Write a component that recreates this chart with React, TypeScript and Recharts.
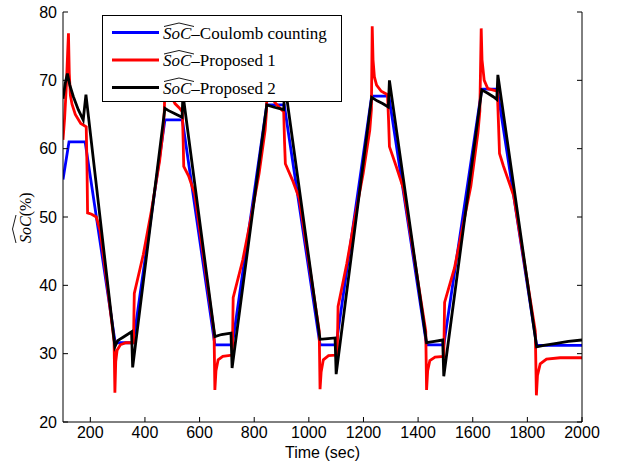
import React from "react";
import { LineChart, Line, XAxis, YAxis, Legend } from "recharts";

// --- SoC estimates, [time (sec), SoC (%)] ---
const coulombSoc: [number, number][] = [
  [100, 55.5], [122, 61], [181, 61], [291, 31.6], [357, 31.6], [473, 64.2],
  [537, 64.2], [656, 31.3], [720, 31.3], [846, 66.4], [910, 66.4], [1041, 31.3],
  [1100, 31.3], [1230, 67.7], [1293, 67.7], [1431, 31.3], [1494, 31.3],
  [1633, 68.7], [1690, 68.7], [1834, 31.2], [2000, 31.2],
];

const proposed1Soc: [number, number][] = [
  [100, 61.3], [106, 64.5], [112, 69], [117, 74], [120, 76.9], [123, 71],
  [127, 67.8], [133, 66.5], [145, 65], [165, 63.7], [185, 63.2], [188, 57],
  [190, 50.6], [205, 50.4], [222, 50], [236, 48], [262, 40], [287, 31.8],
  [290, 24.3], [293, 28.8], [298, 30.5], [310, 31.3], [330, 31.6], [358, 31.6],
  [361, 38.8], [394, 44.5], [424, 51], [454, 58.3], [466, 62.5], [471, 65.5],
  [474, 71], [476, 77], [479, 72], [485, 69.5], [495, 67.8], [510, 66.6],
  [525, 66], [537, 65.4], [540, 61], [542, 57.4], [560, 56], [582, 53.4],
  [653, 33.2], [656, 24.7], [660, 27.5], [668, 29.1], [685, 29.6], [720, 29.8],
  [723, 38.2], [758, 43.7], [788, 49.8], [818, 56.4], [840, 62.7], [845, 65.5],
  [848, 71], [850, 76.5], [853, 71], [860, 68.5], [875, 66.8], [895, 65.9],
  [908, 65.4], [911, 61], [914, 57.8], [940, 55.4], [965, 52.7], [1038, 33.3],
  [1041, 24.8], [1045, 27.3], [1053, 29.1], [1072, 29.7], [1104, 29.8],
  [1107, 36.9], [1139, 43.2], [1169, 50], [1199, 56.4], [1223, 62.7],
  [1229, 65.7], [1232, 77.9], [1235, 73], [1240, 70.5], [1248, 69.3],
  [1265, 68.4], [1288, 67.9], [1292, 64], [1295, 60.3], [1320, 57.4],
  [1346, 54.2], [1428, 33.3], [1431, 24.7], [1435, 27.5], [1443, 29],
  [1462, 29.5], [1494, 29.6], [1497, 37.5], [1533, 42.5], [1563, 48.5],
  [1593, 54.5], [1619, 62.3], [1626, 65.5], [1631, 77.6], [1634, 73],
  [1642, 70], [1655, 68.8], [1672, 68.6], [1690, 68.4], [1694, 64],
  [1698, 59.3], [1712, 57.5], [1750, 53.1], [1829, 33.3], [1833, 23.9],
  [1837, 26.8], [1847, 28.5], [1870, 29.2], [1920, 29.4], [2000, 29.4],
];

const proposed2Soc: [number, number][] = [
  [100, 67.3], [108, 69.5], [116, 71], [125, 69.3], [138, 67.6], [156, 65.7],
  [174, 64.2], [184, 67.9], [290, 31], [300, 31.9], [320, 32.4], [351, 33.2],
  [355, 28], [473, 65.9], [485, 65.6], [510, 65.1], [536, 64.6], [539, 68],
  [656, 32.5], [680, 32.8], [715, 33], [719, 27.9], [846, 66.4], [870, 66.1],
  [908, 65.7], [912, 69.5], [1041, 32.1], [1070, 32.2], [1096, 32.3],
  [1100, 27], [1230, 67.5], [1250, 67], [1270, 66.6], [1291, 66.1],
  [1295, 70], [1431, 31.6], [1460, 31.8], [1490, 32], [1494, 26.7],
  [1633, 68.6], [1655, 68.1], [1675, 67.6], [1688, 67.2], [1692, 70.8],
  [1834, 31], [1860, 31.2], [1907, 31.5], [1950, 31.8], [2000, 32],
];

const xTicks = [200, 400, 600, 800, 1000, 1200, 1400, 1600, 1800, 2000];
const yTicks = [20, 30, 40, 50, 60, 70, 80];

const seriesNames = ["–Coulomb counting", "–Proposed 1", "–Proposed 2"];
const seriesColors = ["#0000ff", "#ff0000", "#000000"];

const toPoints = (pairs: [number, number][]) => pairs.map(([t, v]) => ({ t, v }));
const seriesData = [coulombSoc, proposed1Soc, proposed2Soc].map(toPoints);

const serif = "'Liberation Serif', 'Times New Roman', serif";
const sans = "'Liberation Sans', Arial, sans-serif";
const tickStyle = { fill: "#000", fontSize: 16, fontFamily: sans };

// the wide hat over SoC
const Hat = ({ x, y, w }: { x: number; y: number; w: number }) => (
  <path
    d={`M${x},${y} L${x + w / 2},${y - 3.5} L${x + w},${y}`}
    fill="none"
    stroke="#000"
    strokeWidth={0.9}
  />
);

const LegendBox = () => (
  <div
    style={{
      width: 240,
      height: 87,
      border: "1px solid #000",
      background: "#fff",
      boxSizing: "border-box",
    }}
  >
    <svg width={238} height={85} style={{ display: "block" }}>
      {seriesNames.map((name, i) => {
        const cy = 16.5 + i * 27.5;
        return (
          <g key={name}>
            <line x1={9} x2={56} y1={cy} y2={cy} stroke={seriesColors[i]} strokeWidth={3} />
            <Hat x={61} y={cy - 6} w={30} />
            <text x={60} y={cy + 6} fontFamily={serif} fontSize={17} fill="#000">
              <tspan fontStyle="italic">SoC</tspan>
              {name}
            </text>
          </g>
        );
      })}
    </svg>
  </div>
);

const YLabel = () => (
  <g transform="translate(31,243) rotate(-90)">
    <Hat x={0} y={-15} w={28} />
    <text x={0} y={0} fontFamily={serif} fontSize={16} fill="#000">
      <tspan fontStyle="italic">SoC</tspan>(%)
    </text>
  </g>
);

export default function App() {
  return (
    <div style={{ position: "absolute", left: 0, top: 0, width: 618, height: 464, background: "#fff" }}>
      <LineChart width={618} height={464} margin={{ top: 12, right: 0, bottom: 0, left: 0 }}>
        <XAxis
          dataKey="t"
          type="number"
          domain={[100, 2000]}
          ticks={xTicks}
          interval={0}
          allowDataOverflow
          height={42}
          tickSize={-5}
          tickMargin={10}
          stroke="#000"
          tick={tickStyle}
          label={{
            value: "Time (sec)",
            position: "insideBottom",
            offset: 6,
            fill: "#000",
            fontSize: 16,
            fontFamily: sans,
          }}
        />
        <XAxis
          xAxisId="top"
          orientation="top"
          type="number"
          domain={[100, 2000]}
          ticks={xTicks}
          interval={0}
          allowDataOverflow
          height={0}
          tickSize={-5}
          stroke="#000"
          tickFormatter={() => ""}
        />
        <YAxis
          type="number"
          domain={[20, 80]}
          ticks={yTicks}
          interval={0}
          allowDataOverflow
          width={63}
          tickSize={-5}
          tickMargin={11}
          stroke="#000"
          tick={tickStyle}
          label={() => <YLabel />}
        />
        <YAxis
          yAxisId="right"
          orientation="right"
          type="number"
          domain={[20, 80]}
          ticks={yTicks}
          interval={0}
          allowDataOverflow
          width={36}
          tickSize={-5}
          stroke="#000"
          tickFormatter={() => ""}
        />
        {seriesData.map((pts, i) => (
          <Line
            key={seriesNames[i]}
            data={pts}
            dataKey="v"
            type="linear"
            stroke={seriesColors[i]}
            strokeWidth={2.8}
            dot={false}
            isAnimationActive={false}
          />
        ))}
        <Legend
          layout="horizontal"
          verticalAlign="middle"
          align="center"
          wrapperStyle={{ left: 102, top: 15, width: 240, height: 87 }}
          content={() => <LegendBox />}
        />
      </LineChart>
    </div>
  );
}
